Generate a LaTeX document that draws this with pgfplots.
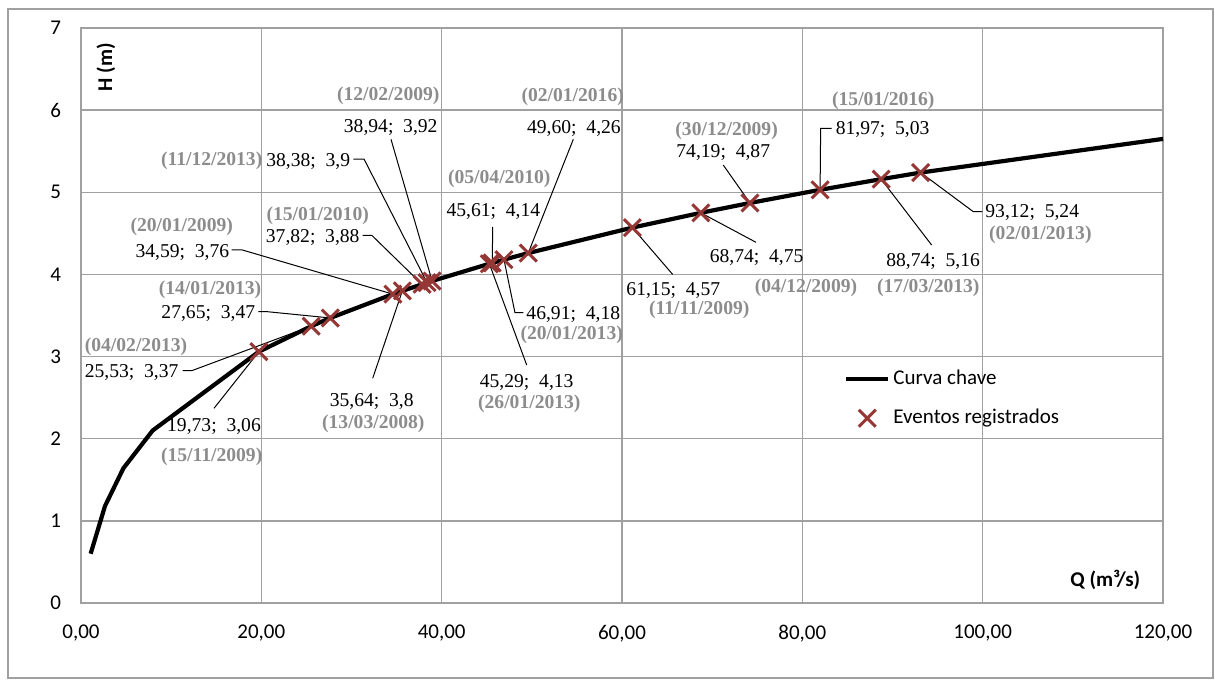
\documentclass[border=0pt]{standalone}
\usepackage{fontspec}
\setmainfont{Liberation Serif}
\newfontfamily\calibri{Carlito}
\usepackage{pgfplots}
\pgfplotsset{compat=1.18}
\definecolor{mk}{HTML}{953735}
\definecolor{gridc}{HTML}{A0A0A0}
\definecolor{dategray}{HTML}{8C8C8C}
\tikzset{
  val/.style={font=\fontsize{9.8}{11}\selectfont, inner sep=0pt, anchor=center},
  dat/.style={font=\bfseries\fontsize{9.8}{11}\selectfont, text=dategray, inner sep=0pt, anchor=center},
  leader/.style={black, line width=0.5pt},
}
\pgfplotsset{
  lineleg/.style={legend image code/.code={\draw[##1] (0pt,0pt) -- (21pt,0pt);}},
  markleg/.style={legend image code/.code={\draw[mark repeat=2,mark phase=2,##1] plot coordinates {(0pt,0pt) (10.5pt,0pt) (21pt,0pt)};}},
}
\begin{document}
\begin{tikzpicture}[x=1pt,y=1pt]
\begin{axis}[at={(0,0)}, anchor=south west, scale only axis,
  width=541pt, height=287.5pt,
  xmin=0, xmax=120, ymin=0, ymax=7,
  xtick={0,20,...,120}, ytick={0,1,...,7},
  grid=major, major grid style={gridc, line width=0.65pt},
  axis line style={gridc, line width=0.65pt},
  major tick length=0pt,
  clip=false,
  xticklabel={\pgfmathprintnumber[fixed,fixed zerofill,precision=2,use comma,assume math mode=true]{\tick}},
  yticklabel={\pgfmathprintnumber[fixed,precision=0,assume math mode=true]{\tick}},
  xticklabel style={font=\calibri\fontsize{10.5}{12}\selectfont, yshift=-7.5pt},
  yticklabel style={font=\calibri\fontsize{10.5}{12}\selectfont, xshift=-6.5pt},
  legend style={draw=none, fill=none, at={(axis cs:84.6,2.88)}, anchor=north west,
    font=\calibri\fontsize{10.5}{12}\selectfont, row sep=8pt, inner sep=0pt,
    nodes={inner sep=1.5pt}},
  legend cell align=left,
]
\addplot[black, line width=2.1pt, lineleg]
  coordinates {
  (1.07,0.60) (2.66,1.18) (4.70,1.64) (7.95,2.10) (19.73,3.06) (25.53,3.37)
  (27.65,3.47) (34.59,3.76) (35.64,3.80) (37.82,3.88) (38.38,3.90) (38.94,3.92)
  (45.29,4.13) (45.61,4.14) (46.91,4.18) (49.60,4.26) (61.15,4.57) (68.74,4.75)
  (74.19,4.87) (81.97,5.03) (88.74,5.16) (93.12,5.24) (120.00,5.65)};
\addlegendentry{Curva chave}
\addplot[only marks, mark=x, mark size=6pt, mk, line width=1.5pt, markleg]
  coordinates {
  (19.73,3.06) (25.53,3.37) (27.65,3.47) (34.59,3.76) (35.64,3.80) (37.82,3.88)
  (38.38,3.90) (38.94,3.92) (45.29,4.13) (45.61,4.14) (46.91,4.18) (49.60,4.26)
  (61.15,4.57) (68.74,4.75) (74.19,4.87) (81.97,5.03) (88.74,5.16) (93.12,5.24)};
\addlegendentry{Eventos registrados}

% leader lines
\draw[leader] (axis cs:34.38,5.645) -- (axis cs:38.94,3.92);
\draw[leader] (axis cs:30.2,5.405) -- (axis cs:31.39,5.405) -- (axis cs:38.38,3.90);
\draw[leader] (axis cs:31.24,4.477) -- (axis cs:32.24,4.477) -- (axis cs:37.82,3.88);
\draw[leader] (axis cs:16.71,4.30) -- (axis cs:17.82,4.30) -- (axis cs:34.59,3.76);
\draw[leader] (axis cs:19.66,3.546) -- (axis cs:20.7,3.546) -- (axis cs:27.65,3.47);
\draw[leader] (axis cs:11.28,2.828) -- (axis cs:12.28,2.828) -- (axis cs:25.53,3.37);
\draw[leader] (axis cs:14.75,2.37) -- (axis cs:19.73,3.06);
\draw[leader] (axis cs:32.35,2.736) -- (axis cs:35.64,3.80);
\draw[leader] (axis cs:54.6,5.645) -- (axis cs:49.60,4.26);
\draw[leader] (axis cs:45.66,4.58) -- (axis cs:45.61,4.14);
\draw[leader] (axis cs:49.05,3.534) -- (axis cs:48.13,3.534) -- (axis cs:46.91,4.18);
\draw[leader] (axis cs:49.43,2.897) -- (axis cs:45.29,4.13);
\draw[leader] (axis cs:83.25,5.779) -- (axis cs:82.03,5.779) -- (axis cs:81.97,5.03);
\draw[leader] (axis cs:71.23,5.332) -- (axis cs:74.19,4.87);
\draw[leader] (axis cs:74.86,4.391) -- (axis cs:68.74,4.75);
\draw[leader] (axis cs:65.62,4.00) -- (axis cs:61.15,4.57);
\draw[leader] (axis cs:94.34,4.358) -- (axis cs:88.74,5.16);
\draw[leader] (axis cs:99.96,4.764) -- (axis cs:98.96,4.764) -- (axis cs:93.12,5.24);

% data labels
\node[val] at (axis cs:34.35,5.79) {38,94;\enspace 3,92};
\node[dat] at (axis cs:34.08,6.17) {(12/02/2009)};
\node[val] at (axis cs:25.2,5.38) {38,38;\enspace 3,9};
\node[dat] at (axis cs:14.49,5.38) {(11/12/2013)};
\node[dat] at (axis cs:26.25,4.72) {(15/01/2010)};
\node[val] at (axis cs:25.7,4.45) {37,82;\enspace 3,88};
\node[dat] at (axis cs:11.17,4.58) {(20/01/2009)};
\node[val] at (axis cs:11.24,4.27) {34,59;\enspace 3,76};
\node[dat] at (axis cs:14.31,3.81) {(14/01/2013)};
\node[val] at (axis cs:14.12,3.53) {27,65;\enspace 3,47};
\node[dat] at (axis cs:6.1,3.12) {(04/02/2013)};
\node[val] at (axis cs:5.62,2.80) {25,53;\enspace 3,37};
\node[val] at (axis cs:14.75,2.15) {19,73;\enspace 3,06};
\node[dat] at (axis cs:14.49,1.78) {(15/11/2009)};
\node[val] at (axis cs:32.24,2.45) {35,64;\enspace 3,8};
\node[dat] at (axis cs:32.42,2.18) {(13/03/2008)};
\node[dat] at (axis cs:54.53,6.16) {(02/01/2016)};
\node[val] at (axis cs:54.67,5.78) {49,60;\enspace 4,26};
\node[dat] at (axis cs:46.39,5.16) {(05/04/2010)};
\node[val] at (axis cs:45.73,4.76) {45,61;\enspace 4,14};
\node[val] at (axis cs:54.6,3.51) {46,91;\enspace 4,18};
\node[dat] at (axis cs:54.42,3.26) {(20/01/2013)};
\node[val] at (axis cs:49.43,2.69) {45,29;\enspace 4,13};
\node[dat] at (axis cs:49.72,2.42) {(26/01/2013)};
\node[dat] at (axis cs:88.98,6.12) {(15/01/2016)};
\node[val] at (axis cs:88.9,5.76) {81,97;\enspace 5,03};
\node[dat] at (axis cs:71.6,5.75) {(30/12/2009)};
\node[val] at (axis cs:71.23,5.49) {74,19;\enspace 4,87};
\node[val] at (axis cs:74.93,4.21) {68,74;\enspace 4,75};
\node[val] at (axis cs:65.69,3.80) {61,15;\enspace 4,57};
\node[dat] at (axis cs:68.57,3.57) {(11/11/2009)};
\node[dat] at (axis cs:80.4,3.84) {(04/12/2009)};
\node[val] at (axis cs:94.5,4.16) {88,74;\enspace 5,16};
\node[dat] at (axis cs:93.97,3.84) {(17/03/2013)};
\node[val] at (axis cs:105.5,4.75) {93,12;\enspace 5,24};
\node[dat] at (axis cs:106.4,4.48) {(02/01/2013)};

% axis titles
\node[rotate=90, font=\calibri\bfseries\fontsize{10.5}{12}\selectfont] at (axis cs:2.77,6.52) {H (m)};
\node[font=\calibri\bfseries\fontsize{10.5}{12}\selectfont] at (axis cs:113.6,0.28) {Q (m³/s)};
\end{axis}
\draw[gridc, line width=0.65pt] (-36.5,-37.5) rectangle (566,297);
\pgfresetboundingbox
\path[use as bounding box] (-40.5,-38.5) rectangle (567,301.5);
\end{tikzpicture}
\end{document}
